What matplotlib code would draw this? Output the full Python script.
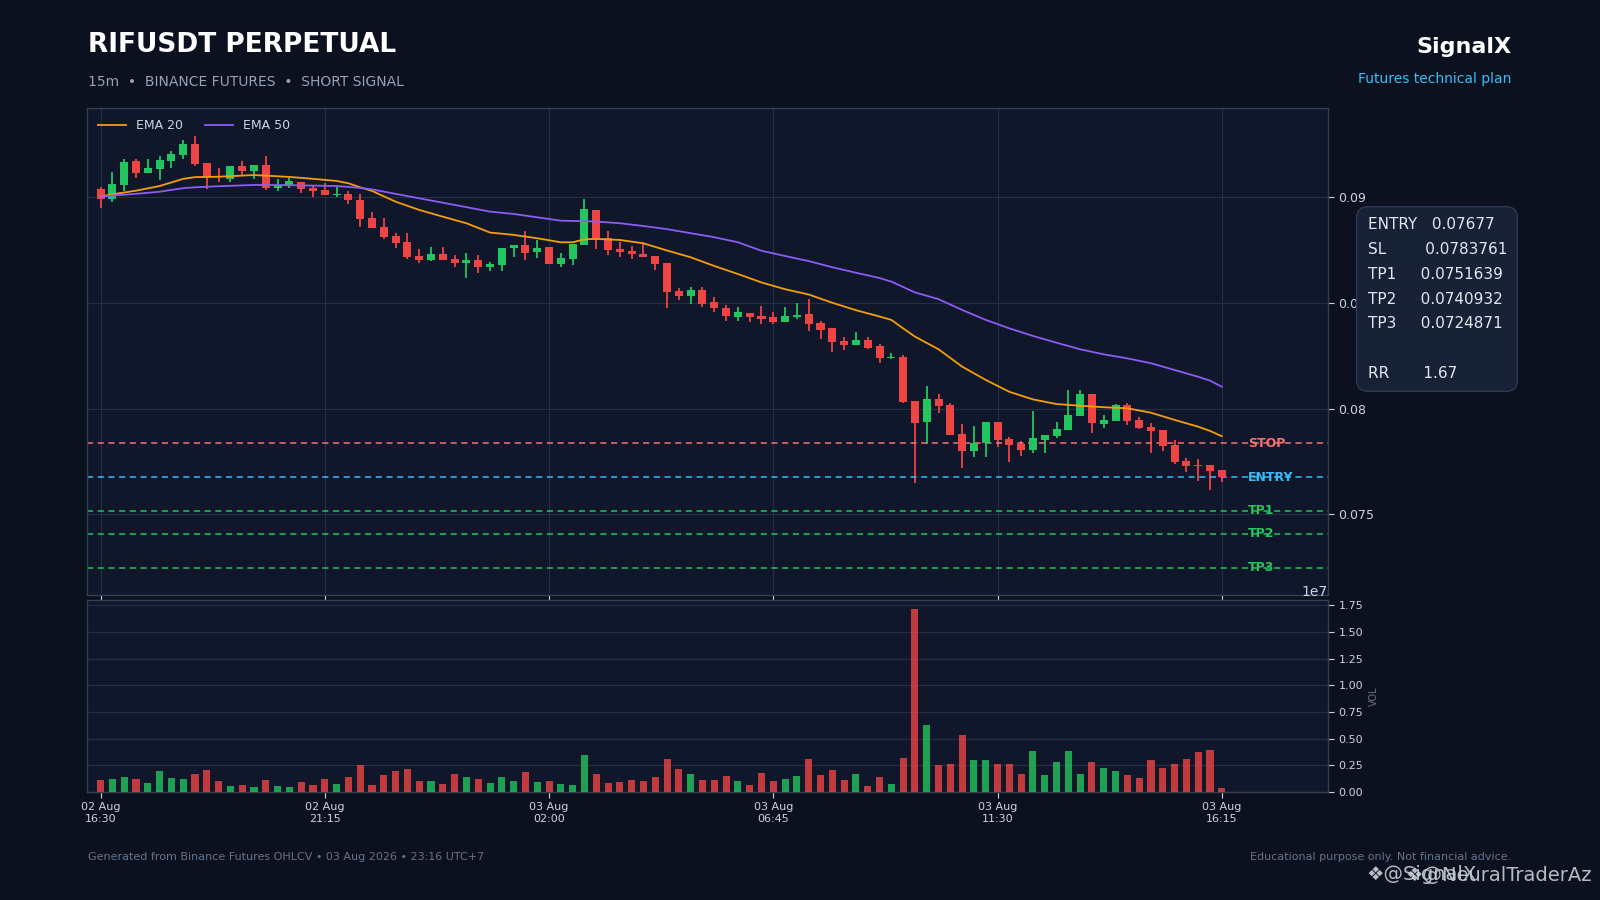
import matplotlib
matplotlib.use("Agg")
import matplotlib.pyplot as plt
from matplotlib.patches import FancyBboxPatch
from matplotlib.ticker import FuncFormatter, MultipleLocator
import numpy as np

# ---------------- data ----------------
opens = [0.09039, 0.08992, 0.09058, 0.09172, 0.09115, 0.09134, 0.09172, 0.09200, 0.09252, 0.09162,
         0.09101, 0.09087, 0.09148, 0.09124, 0.09153, 0.09044, 0.09053, 0.09072, 0.09044, 0.09035,
         0.09011, 0.09016, 0.08987, 0.08902, 0.08860, 0.08817, 0.08789, 0.08722, 0.08703, 0.08732,
         0.08708, 0.08689, 0.08703, 0.08670, 0.08680, 0.08760, 0.08774, 0.08741, 0.08765, 0.08685,
         0.08708, 0.08774, 0.08940, 0.08807, 0.08755, 0.08746, 0.08732, 0.08722, 0.08689, 0.08557,
         0.08533, 0.08562, 0.08505, 0.08476, 0.08434, 0.08453, 0.08439, 0.08434, 0.08410, 0.08434,
         0.08448, 0.08405, 0.08382, 0.08320, 0.08301, 0.08325, 0.08297, 0.08240, 0.08245, 0.08037,
         0.07937, 0.08046, 0.08018, 0.07880, 0.07800, 0.07838, 0.07937, 0.07857, 0.07833, 0.07805,
         0.07852, 0.07871, 0.07899, 0.07966, 0.08070, 0.07928, 0.07942, 0.08018, 0.07947, 0.07914,
         0.07899, 0.07828, 0.07753, 0.07734, 0.07734, 0.07710]
highs = [0.09049, 0.09120, 0.09181, 0.09181, 0.09181, 0.09195, 0.09219, 0.09271, 0.09290, 0.09162,
         0.09139, 0.09148, 0.09172, 0.09153, 0.09195, 0.09087, 0.09091, 0.09072, 0.09058, 0.09068,
         0.09049, 0.09030, 0.09016, 0.08930, 0.08902, 0.08831, 0.08831, 0.08755, 0.08765, 0.08765,
         0.08727, 0.08737, 0.08727, 0.08694, 0.08760, 0.08774, 0.08841, 0.08798, 0.08765, 0.08737,
         0.08779, 0.08992, 0.08940, 0.08841, 0.08789, 0.08770, 0.08789, 0.08722, 0.08689, 0.08571,
         0.08576, 0.08576, 0.08528, 0.08491, 0.08481, 0.08453, 0.08486, 0.08457, 0.08481, 0.08500,
         0.08519, 0.08415, 0.08382, 0.08339, 0.08363, 0.08339, 0.08306, 0.08264, 0.08254, 0.08037,
         0.08107, 0.08070, 0.08027, 0.07928, 0.07918, 0.07937, 0.07937, 0.07866, 0.07847, 0.07989,
         0.07876, 0.07937, 0.08089, 0.08089, 0.08070, 0.07970, 0.08022, 0.08027, 0.07961, 0.07932,
         0.07899, 0.07852, 0.07767, 0.07762, 0.07734, 0.07710]
lows = [0.08949, 0.08978, 0.09030, 0.09091, 0.09115, 0.09082, 0.09139, 0.09181, 0.09148, 0.09039,
        0.09072, 0.09072, 0.09105, 0.09087, 0.09035, 0.09030, 0.09044, 0.09020, 0.09001, 0.09011,
        0.09001, 0.08968, 0.08860, 0.08855, 0.08803, 0.08760, 0.08708, 0.08689, 0.08699, 0.08703,
        0.08670, 0.08618, 0.08642, 0.08651, 0.08651, 0.08718, 0.08703, 0.08713, 0.08685, 0.08670,
        0.08680, 0.08774, 0.08755, 0.08727, 0.08718, 0.08708, 0.08718, 0.08656, 0.08476, 0.08514,
        0.08495, 0.08481, 0.08457, 0.08415, 0.08415, 0.08410, 0.08401, 0.08401, 0.08410, 0.08424,
        0.08368, 0.08330, 0.08268, 0.08278, 0.08301, 0.08282, 0.08216, 0.08235, 0.08027, 0.07649,
        0.07833, 0.07980, 0.07876, 0.07720, 0.07772, 0.07772, 0.07819, 0.07748, 0.07776, 0.07791,
        0.07791, 0.07861, 0.07899, 0.07966, 0.07885, 0.07909, 0.07942, 0.07923, 0.07904, 0.07791,
        0.07800, 0.07739, 0.07701, 0.07658, 0.07616, 0.07653]
closes = [0.08992, 0.09063, 0.09167, 0.09115, 0.09139, 0.09176, 0.09205, 0.09252, 0.09158, 0.09096,
          0.09094, 0.09148, 0.09124, 0.09153, 0.09044, 0.09058, 0.09077, 0.09039, 0.09030, 0.09011,
          0.09016, 0.08987, 0.08897, 0.08855, 0.08812, 0.08784, 0.08718, 0.08703, 0.08732, 0.08703,
          0.08689, 0.08703, 0.08670, 0.08685, 0.08760, 0.08774, 0.08737, 0.08760, 0.08685, 0.08713,
          0.08779, 0.08945, 0.08807, 0.08751, 0.08741, 0.08732, 0.08718, 0.08685, 0.08552, 0.08533,
          0.08562, 0.08495, 0.08476, 0.08439, 0.08457, 0.08434, 0.08424, 0.08410, 0.08439, 0.08443,
          0.08401, 0.08372, 0.08316, 0.08301, 0.08325, 0.08287, 0.08240, 0.08245, 0.08032, 0.07932,
          0.08046, 0.08013, 0.07876, 0.07800, 0.07838, 0.07937, 0.07852, 0.07828, 0.07805, 0.07861,
          0.07876, 0.07904, 0.07970, 0.08070, 0.07932, 0.07947, 0.08018, 0.07942, 0.07909, 0.07895,
          0.07824, 0.07748, 0.07729, 0.07729, 0.07705, 0.07677]
volumes_m = [1.125, 1.22, 1.41, 1.22, 0.84, 1.97, 1.31, 1.22, 1.69, 2.06,
             1.03, 0.56, 0.66, 0.47, 1.125, 0.56, 0.47, 0.94, 0.66, 1.22,
             0.75, 1.41, 2.50, 0.66, 1.59, 1.97, 2.16, 1.03, 1.03, 0.75,
             1.69, 1.41, 1.22, 0.84, 1.41, 1.03, 1.875, 0.94, 1.03, 0.75,
             0.66, 3.47, 1.69, 0.84, 0.94, 1.125, 1.03, 1.41, 3.09, 2.16,
             1.69, 1.125, 1.125, 1.50, 1.03, 0.66, 1.78, 1.03, 1.22, 1.50,
             3.09, 1.59, 2.06, 1.125, 1.69, 0.56, 1.41, 0.75, 3.19, 17.16,
             6.28, 2.50, 2.625, 5.34, 3.00, 3.00, 2.625, 2.625, 1.69, 3.84,
             1.59, 2.81, 3.84, 1.69, 2.81, 2.25, 1.97, 1.59, 1.31, 3.00,
             2.25, 2.625, 3.09, 3.75, 3.94, 0.375]

ema20_idx = [0, 1, 3, 5, 7, 8, 10, 13, 14, 16, 18, 20, 21, 22, 23, 25, 27, 29, 31, 33, 35, 37, 39, 40,
             41, 42, 44, 46, 48, 50, 52, 54, 56, 58, 60, 62, 64, 66, 67, 68, 69, 71, 73, 75, 77, 79,
             81, 83, 85, 87, 89, 91, 93, 94, 95]
ema20_val = [0.09003, 0.09014, 0.09031, 0.09053, 0.09087, 0.09095, 0.09097, 0.09105, 0.09102, 0.09096,
             0.09087, 0.09077, 0.09066, 0.09047, 0.09030, 0.08979, 0.08940, 0.08908, 0.08877, 0.08833,
             0.08822, 0.08806, 0.08787, 0.08787, 0.08801, 0.08803, 0.08798, 0.08782, 0.08748, 0.08716,
             0.08675, 0.08637, 0.08597, 0.08565, 0.08540, 0.08501, 0.08466, 0.08436, 0.08420, 0.08380,
             0.08341, 0.08281, 0.08199, 0.08136, 0.08080, 0.08044, 0.08022, 0.08014, 0.08007, 0.08002,
             0.07981, 0.07947, 0.07915, 0.07895, 0.07870]
ema50_idx = [0, 1, 3, 5, 7, 8, 10, 13, 14, 16, 18, 20, 21, 22, 23, 25, 27, 29, 31, 33, 35, 37, 39, 40,
             42, 44, 46, 48, 50, 52, 54, 56, 58, 60, 62, 64, 66, 67, 69, 71, 73, 75, 77, 79, 81, 83,
             85, 87, 89, 91, 93, 94, 95]
ema50_val = [0.09003, 0.09008, 0.09016, 0.09026, 0.09043, 0.09047, 0.09052, 0.09058, 0.09058, 0.09057,
             0.09055, 0.09053, 0.09049, 0.09044, 0.09037, 0.09016, 0.08995, 0.08974, 0.08953, 0.08932,
             0.08921, 0.08905, 0.08889, 0.08888, 0.08885, 0.08877, 0.08864, 0.08849, 0.08830, 0.08811,
             0.08787, 0.08747, 0.08722, 0.08698, 0.08669, 0.08643, 0.08618, 0.08601, 0.08550, 0.08518,
             0.08467, 0.08420, 0.08380, 0.08344, 0.08312, 0.08281, 0.08257, 0.08238, 0.08215, 0.08183,
             0.08151, 0.08133, 0.08104]

level_names = ["STOP", "ENTRY", "TP1", "TP2", "TP3"]
level_values = [0.0783761, 0.07677, 0.0751639, 0.0740932, 0.0724871]
level_colors = ["#f87171", "#38bdf8", "#22c55e", "#22c55e", "#22c55e"]

tick_pos = [0, 19, 38, 57, 76, 95]
tick_labels = ["02 Aug\n16:30", "02 Aug\n21:15", "03 Aug\n02:00",
               "03 Aug\n06:45", "03 Aug\n11:30", "03 Aug\n16:15"]

info_lines = ["ENTRY   0.07677", "SL        0.0783761", "TP1     0.0751639",
              "TP2     0.0740932", "TP3     0.0724871", "RR       1.67"]

# ---------------- styling ----------------
FIG_BG = "#0b111e"
AX_BG = "#10172a"
GRID = "#253044"
SPINE = "#334155"
TXT = "#cbd5e1"
GREEN = "#22c55e"
RED = "#ef4444"

fig = plt.figure(figsize=(16, 9), dpi=100, facecolor=FIG_BG)
W, H = 1600.0, 900.0

def fig_rect(l, t, r, b):
    return [l / W, 1 - b / H, (r - l) / W, (b - t) / H]

ax = fig.add_axes(fig_rect(87, 108, 1328, 595))
axv = fig.add_axes(fig_rect(87, 600, 1328, 792), sharex=ax)

o = np.array(opens); h = np.array(highs); l = np.array(lows); c = np.array(closes)
x = np.arange(len(o))
up = c >= o
cols = np.where(up, GREEN, RED)

for a in (ax, axv):
    a.set_facecolor(AX_BG)
    for s in a.spines.values():
        s.set_color(SPINE)
        s.set_linewidth(1.0)
    a.tick_params(colors=TXT, labelcolor=TXT, length=4, width=0.8)
    a.yaxis.tick_right()
    a.set_axisbelow(True)

# price panel
ax.grid(True, color=GRID, linewidth=0.8)
ax.vlines(x, l, h, colors=cols, linewidth=1.3, zorder=2)
body_h = np.maximum(np.abs(c - o), 0.000025)
ax.bar(x, body_h, bottom=np.minimum(o, c), width=0.68, color=cols, linewidth=0, zorder=3)
ax.plot(ema20_idx, ema20_val, color="#f59e0b", linewidth=1.3, label="EMA 20", zorder=4)
ax.plot(ema50_idx, ema50_val, color="#8b5cf6", linewidth=1.3, label="EMA 50", zorder=4)

for name, val, col in zip(level_names, level_values, level_colors):
    ax.axhline(val, color=col, linewidth=1.1, linestyle=(0, (4, 3)), zorder=2)
    ax.text(97.2, val, name, color=col, fontsize=9, fontweight="bold",
            va="center", ha="left", zorder=5)

ax.set_xlim(-1.15, 104.0)
ax.set_ylim(0.07119, 0.09422)
ax.yaxis.set_major_locator(MultipleLocator(0.005))
ax.yaxis.set_major_formatter(FuncFormatter(lambda v, p: "%g" % round(v, 4)))
ax.tick_params(axis="y", labelsize=9)
ax.tick_params(axis="x", labelbottom=False)
ax.set_xticks(tick_pos)

leg = ax.legend(loc="upper left", ncol=2, frameon=False, fontsize=9,
                labelcolor=TXT, handlelength=2.2, columnspacing=1.8)

# volume panel
vol = np.array(volumes_m) * 1e6
vcols = np.where(up, GREEN, RED)
axv.grid(True, axis="y", color=GRID, linewidth=0.8)
axv.bar(x, vol, width=0.6, color=vcols, alpha=0.8, linewidth=0, zorder=3)
axv.set_ylim(0, 1.80e7)
axv.yaxis.set_major_locator(MultipleLocator(2.5e6))
axv.tick_params(axis="y", labelsize=8)
axv.yaxis.get_offset_text().set_color(TXT)
axv.yaxis.get_offset_text().set_fontsize(10)
axv.set_xticks(tick_pos)
axv.set_xticklabels(tick_labels, fontsize=8, color=TXT)
axv.yaxis.set_label_position("right")
axv.set_ylabel("VOL", color="#64748b", fontsize=7, labelpad=4)

# ---------------- header / footer ----------------
fig.text(88 / W, 1 - 45 / H, "RIFUSDT PERPETUAL", color="white", fontsize=19,
         fontweight="bold", ha="left", va="center")
fig.text(88 / W, 1 - 82 / H, "15m  •  BINANCE FUTURES  •  SHORT SIGNAL",
         color="#94a3b8", fontsize=10, ha="left", va="center")
fig.text(1511 / W, 1 - 47 / H, "SignalX", color="white", fontsize=16,
         fontweight="bold", ha="right", va="center")
fig.text(1511 / W, 1 - 78.5 / H, "Futures technical plan", color="#38bdf8",
         fontsize=10, ha="right", va="center")
fig.text(88 / W, 1 - 857 / H,
         "Generated from Binance Futures OHLCV • 03 Aug 2026 • 23:16 UTC+7",
         color="#64748b", fontsize=8, ha="left", va="center")
fig.text(1511 / W, 1 - 857 / H, "Educational purpose only. Not financial advice.",
         color="#64748b", fontsize=8, ha="right", va="center")

# ---------------- info box ----------------
bl, bt, br, bb = 1356, 206, 1518, 392
axb = fig.add_axes(fig_rect(bl, bt, br, bb))
axb.set_axis_off()
axb.set_xlim(0, 1); axb.set_ylim(0, 1)
bw, bh = br - bl, bb - bt
box = FancyBboxPatch((0.004, 0.004), 0.992, 0.992,
                     boxstyle="round,pad=0,rounding_size=%f" % (11.0 / bw),
                     mutation_aspect=bw / bh,
                     facecolor="#172236", edgecolor="#2f3b52", linewidth=1.0,
                     transform=axb.transAxes, clip_on=False)
axb.add_patch(box)
line_y = [224.5, 249.5, 274.5, 299.0, 323.5, 373.0]
for txt, yy in zip(info_lines, line_y):
    fig.text(1368.5 / W, 1 - yy / H, txt, color="#e2e8f0", fontsize=11,
             ha="left", va="center")

# ---------------- watermark overlay ----------------
fig.text(1366 / W, 1 - 875 / H, "❖@SignalX", color="#c9ced6", fontsize=14,
         ha="left", va="center", alpha=0.9)
fig.text(1405 / W, 1 - 875 / H, "❖@NeuralTraderAz", color="#c9ced6", fontsize=14,
         ha="left", va="center", alpha=0.9)

fig.savefig("out.png", dpi=100, facecolor=FIG_BG)
